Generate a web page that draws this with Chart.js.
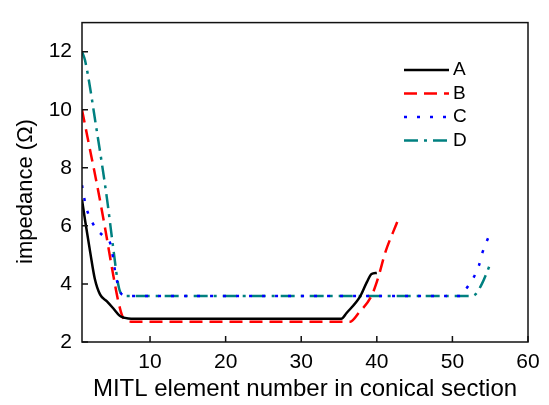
<!DOCTYPE html>
<html>
<head>
<meta charset="utf-8">
<script src="https://cdn.jsdelivr.net/npm/chart.js@4"></script>
<style>
  body { margin: 0; background: #fff; }
  #wrap { width: 549px; height: 405px; }
</style>
</head>
<body>
<div id="wrap"><canvas id="chart"></canvas></div>
<script>
// series (x = element number, y = impedance in ohm)
const seriesNames = ["A", "B", "C", "D"];

const aX = [1, 1.4, 2.1, 2.7, 3.4, 4.3, 5.1, 6.0, 6.7, 7.5, 35.3, 36.0, 37.8, 38.7, 39.3, 40];
const aY = [6.9, 6.2, 5.07, 4.17, 3.63, 3.4, 3.17, 2.9, 2.83, 2.8, 2.8, 3.0, 3.57, 4.07, 4.34, 4.38];

const bX = [1, 2, 3, 4, 5, 5.8, 6.4, 7.0, 7.5, 36.5, 37.6, 39.3, 40.2, 41.1, 42.7];
const bY = [10.0, 8.7, 7.4, 6.0, 4.5, 3.4, 2.85, 2.72, 2.7, 2.7, 3.0, 3.59, 4.23, 5.07, 6.13];

const cX = [1, 1.5, 2.5, 4.0, 4.8, 5.4, 6.0, 6.6, 7.0, 51.0, 51.4, 52.7, 53.5, 54.0, 54.8];
const cY = [7.4, 6.7, 6.05, 5.6, 5.35, 4.4, 3.75, 3.6, 3.58, 3.58, 3.7, 4.17, 4.63, 5.1, 5.63];

const dX = [1, 1.4, 3, 4, 4.4, 5.1, 5.8, 6.2, 6.8, 52.4, 53.0, 53.9, 55.0];
const dY = [12.0, 11.7, 9.2, 7.5, 6.75, 5.3, 3.97, 3.65, 3.58, 3.58, 3.63, 4.0, 4.68];

const xTicks = [10, 20, 30, 40, 50, 60];
const yTicks = [2, 4, 6, 8, 10, 12];

const colors = ["#000000", "#ff0000", "#0000ff", "#008080"];
const dashes = [[], [13, 7], [3, 10], [14, 6, 3, 6]];

function toPoints(xs, ys) {
  return xs.map((x, i) => ({ x: x, y: ys[i] }));
}

Chart.defaults.font.family = "'Liberation Sans', Arial, sans-serif";
Chart.defaults.color = "#000";

// frame, inward tick marks and the legend box
const framePlugin = {
  id: "frame",
  afterDraw(chart) {
    const ctx = chart.ctx;
    const a = chart.chartArea;
    ctx.save();
    ctx.strokeStyle = "#111";
    ctx.lineWidth = 1.5;
    ctx.setLineDash([]);
    ctx.strokeRect(a.left, a.top, a.right - a.left, a.bottom - a.top);
    ctx.beginPath();
    xTicks.forEach((t) => {
      const px = chart.scales.x.getPixelForValue(t);
      ctx.moveTo(px, a.bottom);
      ctx.lineTo(px, a.bottom - 6);
    });
    yTicks.forEach((t) => {
      const py = chart.scales.y.getPixelForValue(t);
      ctx.moveTo(a.left, py);
      ctx.lineTo(a.left + 6, py);
    });
    ctx.stroke();

    // legend
    ctx.font = "19px 'Liberation Sans', Arial, sans-serif";
    ctx.textBaseline = "middle";
    ctx.fillStyle = "#000";
    chart.data.datasets.forEach((ds, i) => {
      const y = 70 + i * 23.5;
      ctx.beginPath();
      ctx.strokeStyle = ds.borderColor;
      ctx.lineWidth = ds.borderWidth;
      ctx.setLineDash(ds.borderDash);
      ctx.moveTo(404, y);
      ctx.lineTo(449, y);
      ctx.stroke();
      ctx.fillText(ds.label, 453, y);
    });
    ctx.restore();
  }
};

const allX = [aX, bX, cX, dX];
const allY = [aY, bY, cY, dY];

const chart = new Chart(document.getElementById("chart"), {
  type: "line",
  data: {
    datasets: seriesNames.map((name, i) => ({
      label: name,
      data: toPoints(allX[i], allY[i]),
      borderColor: colors[i],
      borderWidth: 2.5,
      borderDash: dashes[i],
      pointRadius: 0,
      cubicInterpolationMode: "monotone",
      fill: false,
    })),
  },
  options: {
    responsive: true,
    maintainAspectRatio: false,
    animation: false,
    layout: {
      padding: { top: 11, right: 21, left: 0, bottom: 0 },
    },
    scales: {
      x: {
        type: "linear",
        min: 1,
        max: 60,
        afterFit: (scale) => { scale.height = 63; },
        grid: { display: false, drawTicks: false },
        border: { display: false },
        ticks: {
          stepSize: 10,
          includeBounds: false,
          padding: 8,
          maxRotation: 0,
          font: { size: 21 },
          color: "#000",
        },
        title: {
          display: true,
          text: "MITL element number in conical section",
          font: { size: 24 },
          color: "#000",
          padding: { top: 0, bottom: 1 },
        },
      },
      y: {
        min: 2,
        max: 13,
        afterFit: (scale) => { scale.width = 82; },
        grid: { display: false, drawTicks: false },
        border: { display: false },
        ticks: {
          stepSize: 2,
          includeBounds: false,
          padding: 10,
          font: { size: 21 },
          color: "#000",
        },
        title: {
          display: true,
          // trailing spaces nudge the rotated text down a little
          text: "impedance (Ω)   ",
          font: { size: 22 },
          color: "#000",
          padding: { top: 13, bottom: 0 },
        },
      },
    },
    plugins: {
      legend: { display: false },
      tooltip: { enabled: false },
    },
  },
  plugins: [framePlugin],
});
</script>
</body>
</html>
